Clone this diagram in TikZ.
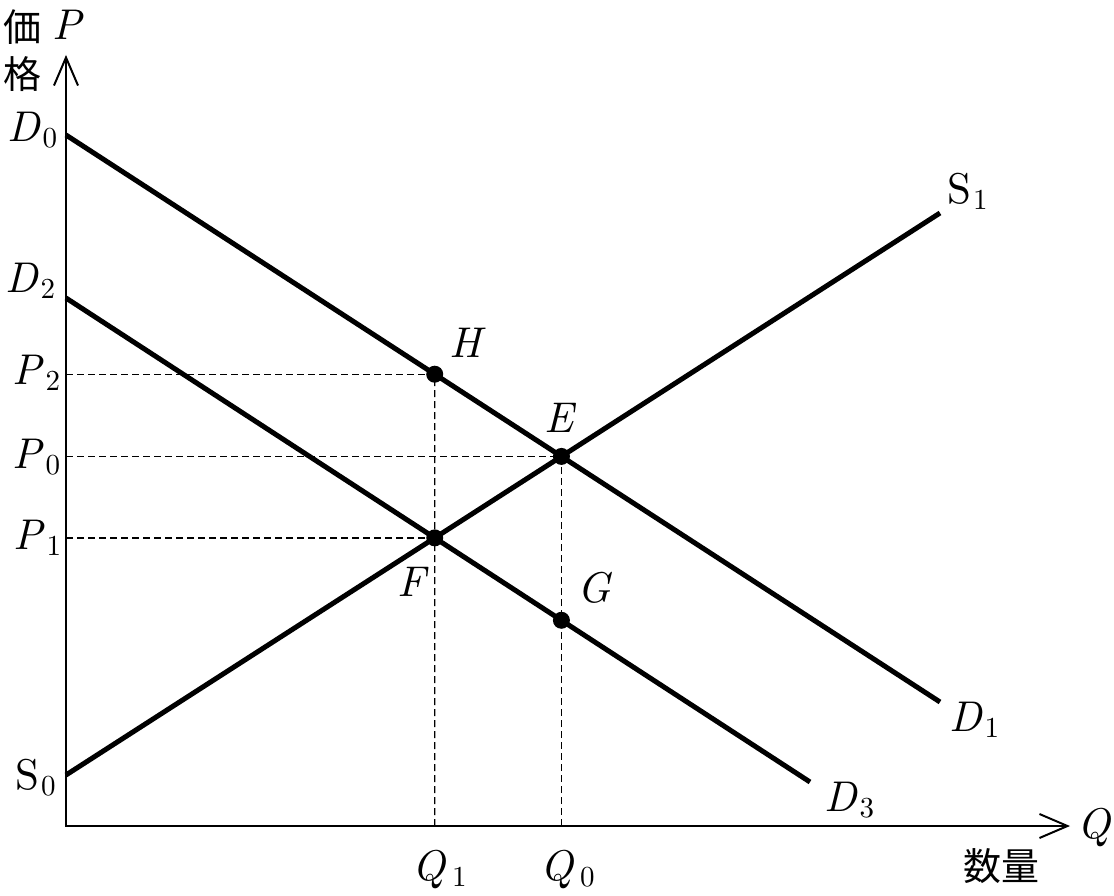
\documentclass[tikz,border=0pt]{standalone}
\usepackage{fontspec}
\setmainfont{lmroman10-regular.otf}[ItalicFont=lmroman10-italic.otf]
\newfontfamily\cjk{Noto Sans CJK JP}
\usetikzlibrary{arrows.meta,intersections,calc}
\newcommand{\sublab}[3][0pt]{\textit{#2}\kern#1\raisebox{-6pt}{\fontsize{29}{30}\selectfont #3}}
\begin{document}
\begin{tikzpicture}[x=1pt,y=-1pt,
  lab/.style={font=\fontsize{43}{48}\selectfont, inner sep=0pt, anchor=base west},
  cjklab/.style={font=\cjk\fontsize{38}{40}\selectfont, inner sep=0pt, anchor=center},
  curve/.style={line width=5pt},
  axisline/.style={line width=2pt, {Straight Barb[length=28pt,width=24pt]}-{Straight Barb[length=28pt,width=24pt]}},
  guide/.style={line width=1.4pt, dash pattern=on 7pt off 4pt},
  dot/.style={circle, fill=black, minimum size=17pt, inner sep=0pt}]
\useasboundingbox (0,0) rectangle (1114,896);
% base coordinates
\coordinate (O) at (66,826);
\coordinate (Ytop) at (66,55);
\coordinate (Xend) at (1070,826);
\coordinate (D0) at (66,135);
\coordinate (D1) at (940,702);
\coordinate (D2) at (66,298);
\coordinate (D3) at (810,782);
\coordinate (S0) at (66,775);
\coordinate (S1) at (940,213);
\path[name path=dA] (D0) -- (D1);
\path[name path=dB] (D2) -- (D3);
\path[name path=sL] (S0) -- (S1);
\path[name intersections={of=dA and sL, by=E}];
\path[name intersections={of=dB and sL, by=F}];
\path[name path=vF] (F |- Ytop) -- (F |- O);
\path[name path=vE] (E |- Ytop) -- (E |- O);
\path[name intersections={of=dA and vF, by=H}];
\path[name intersections={of=dB and vE, by=G}];
\coordinate (P2) at (O |- H);
\coordinate (P0) at (O |- E);
\coordinate (P1) at (O |- F);
\coordinate (Q1) at (F |- O);
\coordinate (Q0) at (E |- O);
% guides
\draw[guide] (P2) -- (H);
\draw[guide] (P0) -- (E);
\draw[guide] (P1) -- (F);
\draw[guide] (Q1) -- (H);
\draw[guide] (Q0) -- (E);
% axes
\draw[axisline] (Ytop) -- (O) -- (Xend);
% curves
\draw[curve] (D0) -- (D1);
\draw[curve] (D2) -- (D3);
\draw[curve] (S0) -- (S1);
% dots
\node[dot] (h) at (H) {};
\node[dot] (e) at (E) {};
\node[dot] (f) at (F) {};
\node[dot] (g) at (G) {};
% labels
\node[cjklab] (ka) at (22,27) {価};
\node[cjklab] (kaku) at (22,74) {格};
\node[lab] (lP) at (52,40) {\textit{P}};
\node[lab] (lQ) at (1077,838) {\textit{Q}};
\node[cjklab] (suryo) at (1001,866) {数量};
\node[lab] (lD0) at (7,142) {\sublab[2pt]{D}{0}};
\node[lab] (lD2) at (5,292) {\sublab[2pt]{D}{2}};
\node[lab] (lP2) at (12,384) {\sublab[2pt]{P}{2}};
\node[lab] (lP0) at (12,468) {\sublab[2pt]{P}{0}};
\node[lab] (lP1) at (13,549) {\sublab[2pt]{P}{1}};
\node[lab] (lS0) at (15,789) {S\kern2pt\raisebox{-6pt}{\fontsize{29}{30}\selectfont 0}};
\node[lab] (lH) at (449,357) {\textit{H}};
\node[lab] (lE) at (544,432) {\textit{E}};
\node[lab] (lF) at (397,596) {\textit{F}};
\node[lab] (lG) at (577,602) {\textit{G}};
\node[lab] (lS1) at (947,204) {S\kern2pt\raisebox{-6pt}{\fontsize{29}{30}\selectfont 1}};
\node[lab] (lD1) at (949,731) {\sublab[2pt]{D}{1}};
\node[lab] (lD3) at (824,811) {\sublab[2pt]{D}{3}};
\node[lab] (lQ1) at (412,880) {\sublab[6pt]{Q}{1}};
\node[lab] (lQ0) at (540,880) {\sublab[6pt]{Q}{0}};
\end{tikzpicture}
\end{document}
